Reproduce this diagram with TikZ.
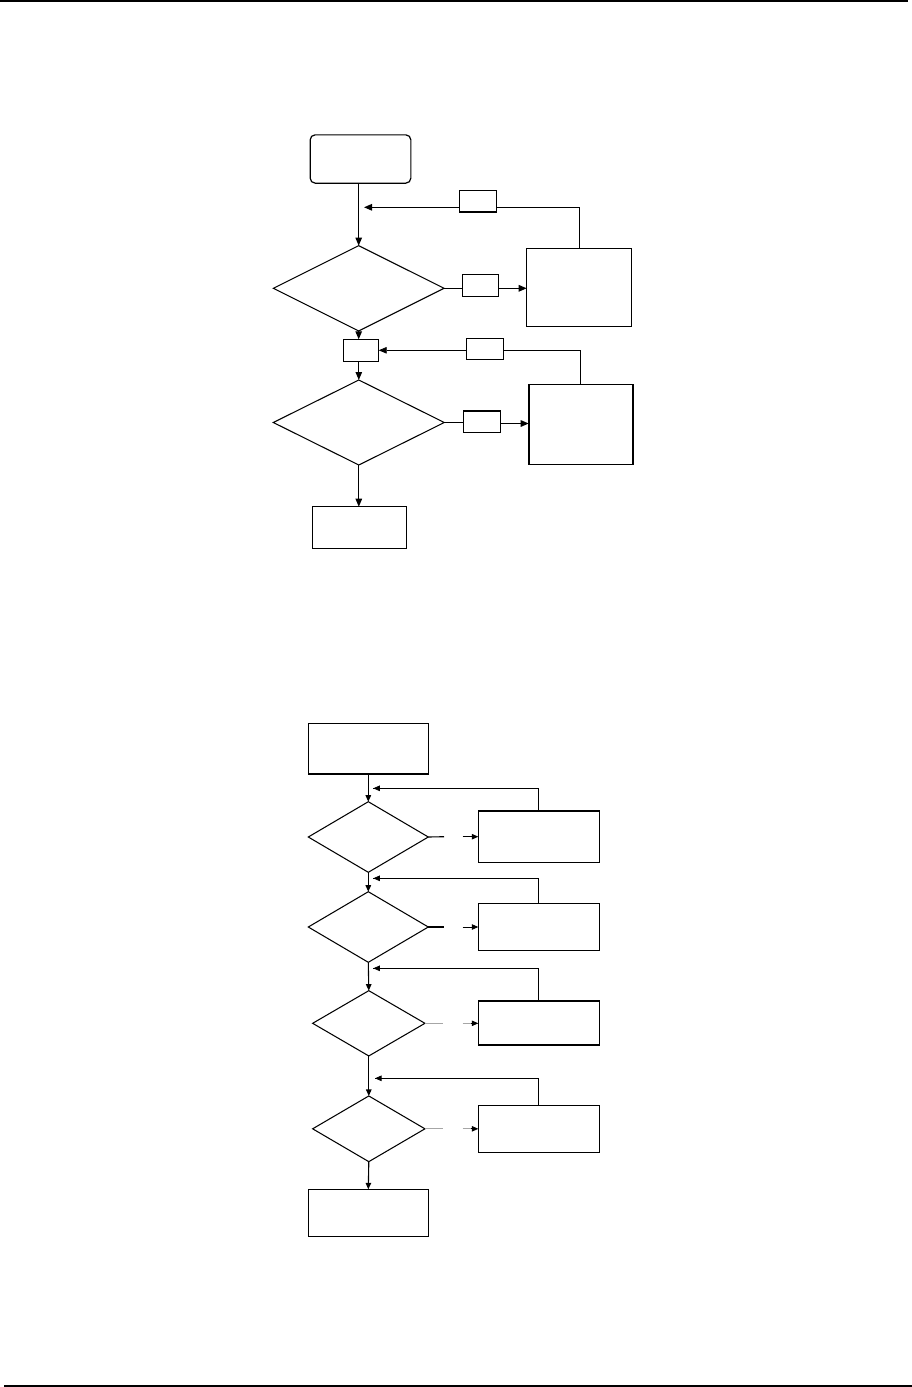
\documentclass[tikz,border=0pt]{standalone}
\usetikzlibrary{shapes.geometric,arrows.meta}
\begin{document}
\begin{tikzpicture}[x=1pt,y=-1pt,
  box/.style={draw, rectangle, inner sep=0pt, outer sep=0pt, line width=1.2pt},
  dia/.style={draw, diamond, inner sep=0pt, outer sep=0pt, line width=1.05pt},
  ln/.style={line width=1.1pt},
  thin/.style={line width=0.8pt},
  arrA/.style={-{Triangle[length=8pt,width=6.5pt]}},
  arrB/.style={-{Triangle[length=6.5pt,width=5.5pt]}},
  faint/.style={draw=black!35, line width=0.8pt}]
\useasboundingbox (0,0) rectangle (912,1387);
% page rules
\coordinate (tl) at (0,0.8);
\coordinate (tr) at (908,0.8);
\coordinate (bl) at (4,1385.8);
\coordinate (br) at (912,1385.8);
\draw[line width=1.5pt] (tl) -- (tr);
\draw[line width=1.5pt] (bl) -- (br);

% ---------- top chart ----------
\node[box, rounded corners=5pt, minimum width=100.7pt, minimum height=48.3pt] (start) at (360.5,159) {};
\node[dia, minimum width=170.7pt, minimum height=85.3pt] (d1) at (358.7,288.3) {};
\node[box, minimum width=105pt, minimum height=78.4pt] (r1) at (579.2,287.5) {};
\node[box, minimum width=37pt, minimum height=21.3pt] (lab1) at (477.8,201.3) {};
\node[box, minimum width=36.4pt, minimum height=22.4pt] (lab2) at (480.5,285.5) {};
\node[box, minimum width=35.4pt, minimum height=22pt] (m) at (361,350.3) {};
\node[box, minimum width=36.6pt, minimum height=21pt] (lab3) at (485,348.8) {};
\node[dia, minimum width=171pt, minimum height=85pt] (d2) at (358.8,422.5) {};
\node[box, line width=1.6pt, minimum width=104pt, minimum height=80pt] (r2) at (580.7,424.3) {};
\node[box, minimum width=37.4pt, minimum height=21.3pt] (lab4) at (482,421.7) {};
\node[box, minimum width=94.4pt, minimum height=41.6pt] (end1) at (359.5,527.5) {};

\coordinate (tip1) at (364,207.3);
\draw[ln, arrA] (d1.north |- start.south) -- (d1.north);
\draw[thin] (r1.north) |- (lab1.east |- tip1);
\draw[line width=1.3pt, arrA] (lab1.west |- tip1) -- (tip1);
\draw[ln] (d1.east) -- (d1.east -| lab2.west);
\draw[line width=1.4pt, arrA] (d1.east -| lab2.east) -- (d1.east -| r1.west);
\draw[ln, arrA] (d1.south) -- (d1.south |- m.north);
\draw[ln, arrA] (d2.north |- m.south) -- (d2.north);
\draw[thin] (r2.north) |- (lab3.east |- m.east);
\draw[thin, arrA] (lab3.west |- m.east) -- (m.east);
\coordinate (y2) at (0,423.5);
\draw[ln] (d2.east) -- (d2.east -| lab4.west);
\draw[line width=1.4pt, arrA] (lab4.east |- y2) -- (r2.west |- y2);
\draw[ln, arrA] (d2.south) -- (end1.north -| d2.south);

% ---------- bottom chart ----------
\node[box, minimum width=120pt, minimum height=50.7pt] (s2) at (368.3,748.7) {};
\node[dia, minimum width=120pt, minimum height=70.6pt] (e1) at (368.3,837) {};
\node[box, minimum width=121pt, minimum height=51.3pt] (q1) at (538.8,836.7) {};
\node[dia, minimum width=120pt, minimum height=70.6pt] (e2) at (368.3,927) {};
\node[box, minimum width=121pt, minimum height=47.4pt] (q2) at (538.8,927) {};
\node[dia, minimum width=112.3pt, minimum height=65.3pt] (e3) at (368.8,1023.3) {};
\node[box, minimum width=121pt, minimum height=44pt] (q3) at (538.8,1023) {};
\node[dia, minimum width=112.3pt, minimum height=65.7pt] (e4) at (368.8,1128.8) {};
\node[box, minimum width=121pt, minimum height=46.6pt] (q4) at (538.8,1129) {};
\node[box, minimum width=120pt, minimum height=47.4pt] (f2) at (368.3,1213) {};

\coordinate (t1) at (373.3,788.3);
\coordinate (t2) at (373.3,878.3);
\coordinate (t3) at (373.3,968.3);
\coordinate (t4) at (375,1078.3);
\coordinate (g1a) at (444,836.7);
\coordinate (g1b) at (462.7,836.7);
\coordinate (g2a) at (444,927);
\coordinate (g2b) at (462.7,927);
\coordinate (g3a) at (442.7,1023.3);
\coordinate (g3b) at (462.7,1023.3);
\coordinate (g3c) at (471,1023.3);
\coordinate (g4a) at (442.7,1128.8);
\coordinate (g4b) at (462.7,1128.8);
\coordinate (g4c) at (471,1128.8);

\draw[ln, arrB] (s2.south) -- (e1.north);
\draw[thin] (q1.north) |- (t1);
\draw[thin, arrB] (q1.north |- t1) -- (t1);
\draw[ln] (e1.east) -- (g1a);
\draw[thin, arrB] (g1b) -- (q1.west |- g1b);

\draw[ln, arrB] (e1.south) -- (e2.north);
\draw[thin] (q2.north) |- (t2);
\draw[thin, arrB] (q2.north |- t2) -- (t2);
\draw[ln] (e2.east) -- (g2a);
\draw[thin, arrB] (g2b) -- (q2.west |- g2b);

\draw[ln, arrB] (e2.south) -- (e3.north);
\draw[thin] (q3.north) |- (t3);
\draw[thin, arrB] (q3.north |- t3) -- (t3);
\draw[faint] (e3.east) -- (g3a);
\draw[faint] (g3b) -- (g3c);
\draw[thin, arrB] (g3c) -- (q3.west |- g3c);

\draw[ln, arrB] (e3.south) -- (e4.north);
\draw[thin] (q4.north) |- (t4);
\draw[thin, arrB] (q4.north |- t4) -- (t4);
\draw[faint] (e4.east) -- (g4a);
\draw[faint] (g4b) -- (g4c);
\draw[thin, arrB] (g4c) -- (q4.west |- g4c);

\draw[ln, arrB] (e4.south) -- (f2.north);
\end{tikzpicture}
\end{document}
